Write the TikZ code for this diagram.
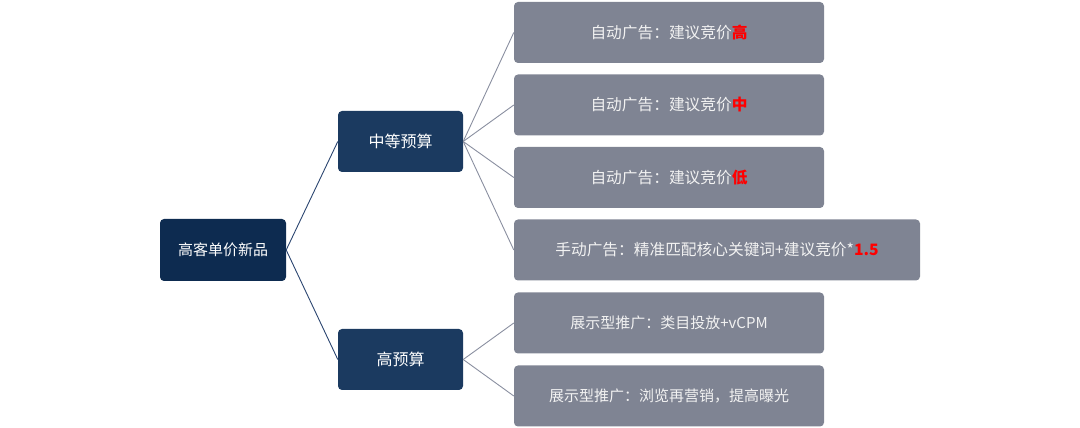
\documentclass[tikz,border=0pt]{standalone}
\usepackage{fontspec}
\setmainfont{Noto Sans CJK SC}
\usepackage{xcolor}
\usepackage{tikz}
\usetikzlibrary{positioning}
\definecolor{cRoot}{RGB}{13,43,80}
\definecolor{cMid}{RGB}{27,58,96}
\definecolor{cLeaf}{RGB}{127,132,147}
\definecolor{cLineA}{RGB}{43,69,112}
\definecolor{cLineB}{RGB}{138,143,160}
\definecolor{cHot}{RGB}{255,0,0}
\tikzset{
  rootbox/.style={draw=none, fill=cRoot, rounded corners=4pt, text=white,
                  minimum width=126pt, minimum height=62pt, align=center, font=\fontsize{15}{18}\selectfont},
  midbox/.style={rootbox, fill=cMid, minimum width=125pt, minimum height=61pt,
                 font=\fontsize{16}{19}\selectfont},
  leaf/.style={rootbox, fill=cLeaf, minimum width=310pt, minimum height=61pt,
               text=white!95!black, font=\fontsize{15}{18}\selectfont},
  leafbig/.style={leaf, font=\fontsize{15.7}{19}\selectfont},
  linkA/.style={draw=cLineA, line width=0.9pt},
  linkB/.style={draw=cLineB, line width=0.9pt},
}
\newcommand{\hot}[1]{\textcolor{cHot}{\bfseries #1}}

\begin{document}
\begin{tikzpicture}[x=1pt, y=1pt]
  \useasboundingbox (0,0) rectangle (1080,428);

  \node[rootbox] (root) at (223,178) {高客单价新品};
  \node[midbox] (mid) at (400.5,286.5) {中等预算};
  \node[midbox] (high) at (400.5,68.5) {高预算};

  \node[leafbig] (a1) at (669,395.5) {自动广告：建议竞价\hot{高}};
  \node[leafbig] (a2) at (669,323) {自动广告：建议竞价\hot{中}};
  \node[leafbig] (a3) at (669,250.5) {自动广告：建议竞价\hot{低}};
  \node[leafbig, minimum width=406pt] (a4) at (717,178) {手动广告：精准匹配核心关键词+建议竞价*\hot{1.5}};
  \node[leaf] (b1) at (669,105) {展示型推广：类目投放+vCPM};
  \node[leaf] (b2) at (669,32) {展示型推广：浏览再营销，提高曝光};

  \draw[linkA] (root.east) -- (mid.west);
  \draw[linkA] (root.east) -- (high.west);
  \foreach \i in {1,...,4} {\draw[linkB] (mid.east) -- (a\i.west);}
  \foreach \i in {1,2} {\draw[linkB] (high.east) -- (b\i.west);}
\end{tikzpicture}
\end{document}
